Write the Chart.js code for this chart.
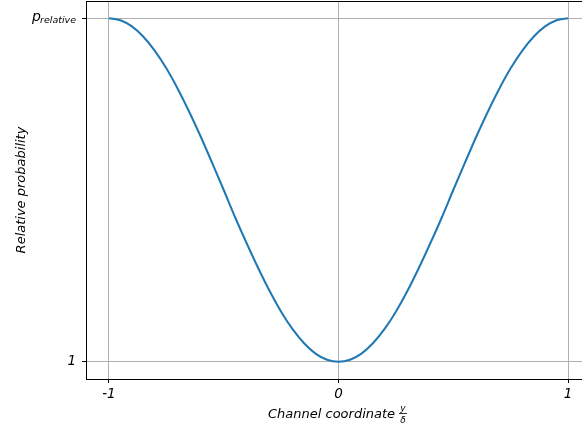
<!DOCTYPE html>
<html>
<head>
<meta charset="utf-8">
<script src="https://cdn.jsdelivr.net/npm/chart.js@4"></script>
<style>
  html, body { margin: 0; padding: 0; background: #fff; overflow: hidden; }
  #wrap { width: 592px; height: 430px; }
</style>
</head>
<body>
<div id="wrap"><canvas id="prob-chart"></canvas></div>
<script>
// channel coordinate y/delta and relative probability
// (1 at the centre, p_relative at the walls; p_relative drawn as 2)
const coords = [-1, -0.95, -0.9, -0.85, -0.8, -0.75, -0.7, -0.65, -0.6, -0.55, -0.5,
                -0.45, -0.4, -0.35, -0.3, -0.25, -0.2, -0.15, -0.1, -0.05, 0,
                0.05, 0.1, 0.15, 0.2, 0.25, 0.3, 0.35, 0.4, 0.45, 0.5,
                0.55, 0.6, 0.65, 0.7, 0.75, 0.8, 0.85, 0.9, 0.95, 1];
const probability = [2, 1.994, 1.976, 1.946, 1.905, 1.854, 1.794, 1.727, 1.655, 1.578, 1.5,
                     1.42, 1.345, 1.273, 1.206, 1.146, 1.095, 1.054, 1.024, 1.006, 1,
                     1.006, 1.024, 1.054, 1.095, 1.146, 1.206, 1.273, 1.345, 1.42, 1.5,
                     1.578, 1.655, 1.727, 1.794, 1.854, 1.905, 1.946, 1.976, 1.994, 2];
const xTicks = [-1, 0, 1];
const yTicks = [1, 2];

const font = 'DejaVu Sans';

const labels = {
    id: 'labels',
    afterDraw(chart) {
        const c = chart.ctx;
        const a = chart.chartArea;
        c.save();
        // frame
        c.strokeStyle = '#000';
        c.lineWidth = 1;
        c.strokeRect(a.left + 0.5, a.top + 0.5, a.right - a.left - 1, a.bottom - a.top);

        c.fillStyle = '#000';
        // p_relative tick label
        const yp = chart.scales.y.getPixelForValue(2);
        c.textBaseline = 'alphabetic';
        c.textAlign = 'left';
        c.font = 'italic 14px "' + font + '"';
        c.fillText('p', 32, yp + 3);
        c.font = 'italic 9.5px "' + font + '"';
        c.fillText('relative', 40, yp + 5);

        // y title
        c.save();
        c.translate(25, (a.top + a.bottom) / 2);
        c.rotate(-Math.PI / 2);
        c.textAlign = 'center';
        c.font = 'italic 13px "' + font + '"';
        c.fillText('Relative probability', 0, 0);
        c.restore();

        // x title with fraction y/δ
        c.font = 'italic 13px "' + font + '"';
        c.textAlign = 'left';
        c.fillText('Channel coordinate', 268, 418);
        c.font = 'italic 9px "' + font + '"';
        c.textAlign = 'center';
        c.fillText('y', 403, 411);
        c.fillText('δ', 403, 423);
        c.fillRect(399, 413, 8, 0.8);
        c.restore();
    }
};

new Chart(document.getElementById('prob-chart'), {
    type: 'line',
    data: {
        datasets: [{
            data: coords.map((x, i) => ({ x: x, y: probability[i] })),
            borderColor: '#1f77b4',
            borderWidth: 2,
            pointRadius: 0,
            cubicInterpolationMode: 'monotone',
            fill: false
        }]
    },
    options: {
        responsive: true,
        maintainAspectRatio: false,
        animation: false,
        layout: { padding: { top: 1, right: 1, left: 0, bottom: 0 } },
        plugins: {
            legend: { display: false },
            tooltip: { enabled: false }
        },
        scales: {
            x: {
                type: 'linear',
                min: -1.1,
                max: 1.1,
                afterBuildTicks: s => { s.ticks = xTicks.map(v => ({ value: v })); },
                afterFit: s => { s.height = 51; s.paddingLeft = 0; s.paddingRight = 0; },
                grid: { color: '#b0b0b0', lineWidth: 1, tickColor: '#000', tickLength: 4 },
                border: { color: '#000', width: 1 },
                ticks: {
                    color: '#000',
                    padding: 3,
                    maxRotation: 0,
                    font: { family: font, size: 13.5, style: 'italic' },
                    callback: v => String(v)
                }
            },
            y: {
                type: 'linear',
                min: 0.95,
                max: 2.05,
                afterBuildTicks: s => { s.ticks = yTicks.map(v => ({ value: v })); },
                afterFit: s => { s.width = 86; s.paddingTop = 0; s.paddingBottom = 0; },
                grid: { color: '#b0b0b0', lineWidth: 1, tickColor: '#000', tickLength: 4 },
                border: { color: '#000', width: 1 },
                ticks: {
                    color: '#000',
                    padding: 6,
                    font: { family: font, size: 13.5, style: 'italic' },
                    callback: v => (v === 1 ? '1' : '')
                }
            }
        }
    },
    plugins: [labels]
});
</script>
</body>
</html>
